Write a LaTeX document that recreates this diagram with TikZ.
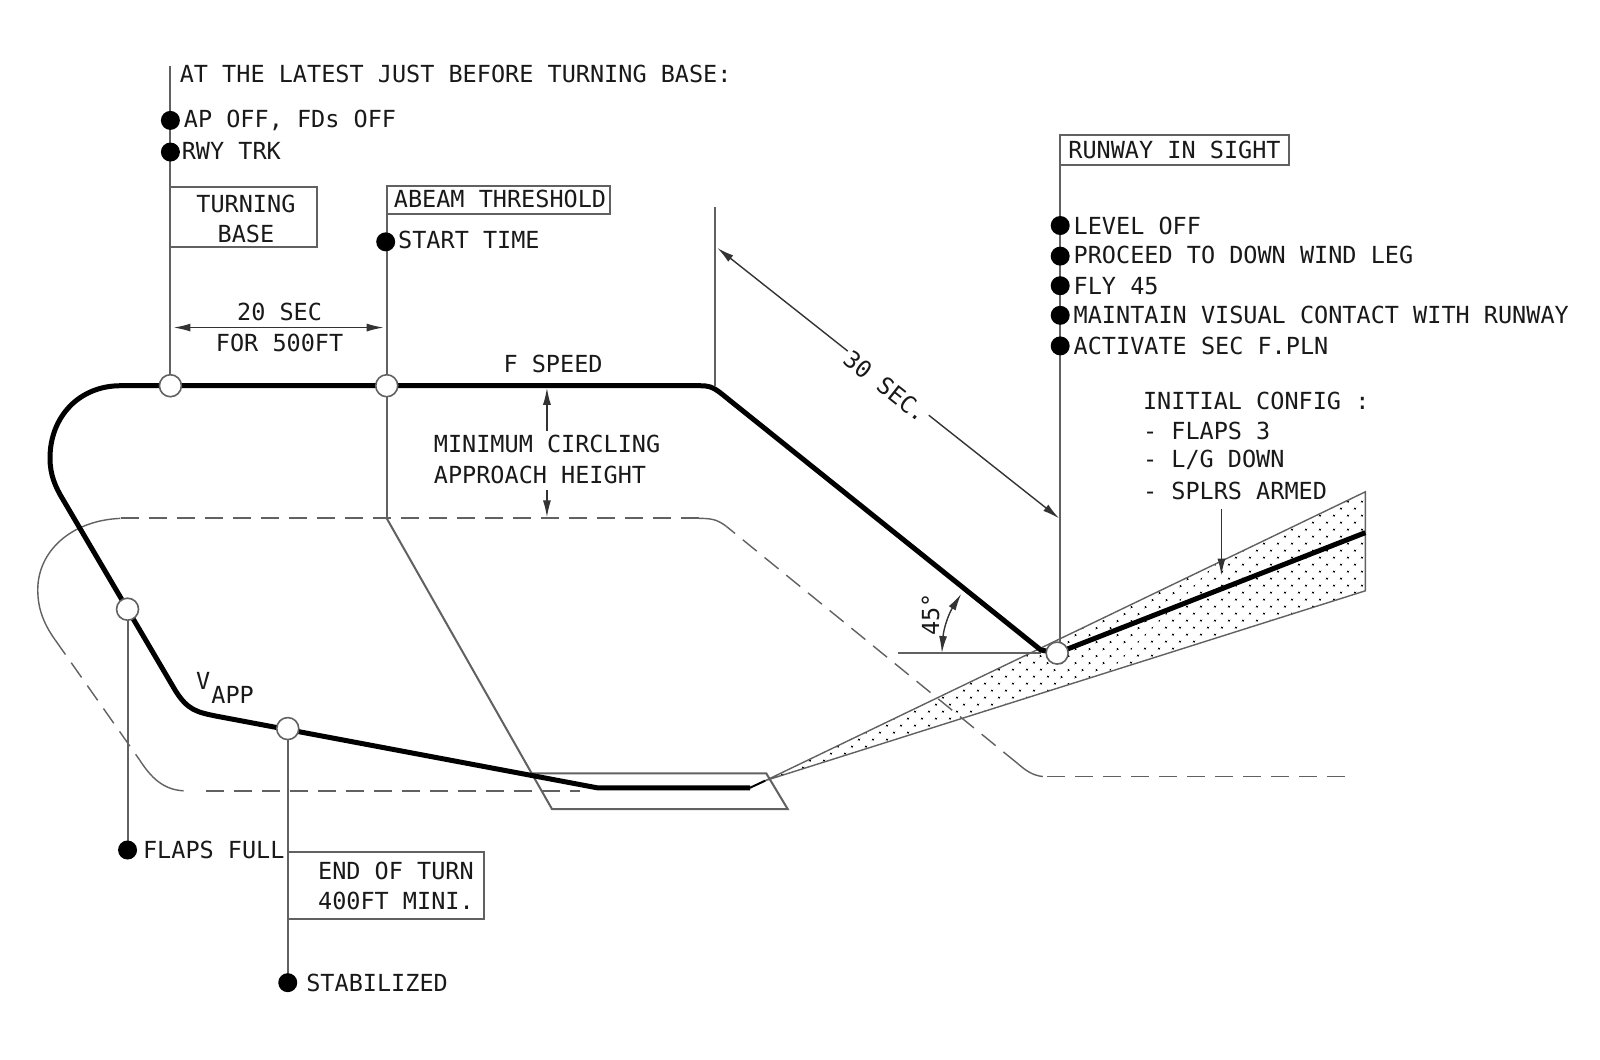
\documentclass[tikz,border=0pt]{standalone}
\usepackage{fontspec}
\setmainfont{DejaVu Sans Mono}
\usetikzlibrary{arrows.meta,patterns.meta}
\definecolor{linegray}{gray}{0.38}
\tikzset{
	lbl/.style={anchor=west,inner sep=0pt,text=black!90,font=\fontsize{23.5}{28}\selectfont},
	ctr/.style={lbl,anchor=center,align=center},
	box/.style={draw=linegray,line width=2pt},
	dot/.style={circle,fill=black,inner sep=0pt,minimum size=19pt},
	ring/.style={circle,draw=linegray,fill=white,line width=1.6pt,inner sep=0pt,minimum size=22pt},
	thin line/.style={draw=linegray,line width=2pt},
	dim/.style={draw=black!80,line width=1.4pt,{Latex[length=17pt,width=8pt]}-{Latex[length=17pt,width=8pt]}},
	lead/.style={draw=black!80,line width=1.4pt,-{Latex[length=17pt,width=8pt]}},
	flight/.style={draw=black,line width=5pt,line join=round},
	ghost/.style={draw=linegray,line width=1.8pt,dash pattern=on 18pt off 10pt},
	ghost arc/.style={draw=linegray,line width=1.4pt}
}
\begin{document}
\begin{tikzpicture}[x=1.0204pt,y=-1.0204pt]

	\useasboundingbox (0,0) rectangle (1568,1038);

	\coordinate (basepoint) at (167,378);
	\coordinate (abeampoint) at (379,378);
	\coordinate (flapspoint) at (125,597);
	\coordinate (stabpoint) at (282,714);
	\coordinate (sightpoint) at (1036,640);
	\coordinate (basetop) at (167,65);
	\coordinate (abeamtop) at (379,182);
	\coordinate (abeamfoot) at (379,508);
	\coordinate (legtop) at (701,203);
	\coordinate (legfoot) at (701,378);
	\coordinate (sightfoot) at (1039,632);
	\coordinate (slopeapex) at (750,765);
	\coordinate (slopeup) at (1338,482);
	\coordinate (slopedown) at (1338,579);
	\coordinate (angleend) at (880,640);
	\coordinate (anglecorner) at (1020,640);

	\fill[white] (0,0) rectangle (1568,1038);

	\path[pattern={Dots[distance=10.5pt,radius=1.3pt,angle=45]},pattern color=black] (slopeapex) -- (slopeup) -- (slopedown) -- cycle;
	\draw[thin line,line width=1.4pt] (slopeapex) -- (slopeup) -- (slopedown) -- cycle;

	\draw[ghost] (1318,761) -- (1022,761);
	\draw[ghost arc] (1022,761) .. controls (1012,760) and (1005,755) .. (997,748);
	\draw[ghost,line width=1.4pt] (997,748) -- (712,516);
	\draw[ghost arc] (712,516) .. controls (703,509) and (697,508) .. (685,508);
	\draw[ghost] (685,508) -- (118,508);
	\draw[ghost arc] (118,508) .. controls (70,510) and (37,540) .. (37,578) .. controls (37,598) and (44,613) .. (54,627);
	\draw[ghost,line width=1.4pt] (54,627) -- (137,745);
	\draw[ghost arc] (137,745) .. controls (148,762) and (160,774) .. (180,775);
	\draw[ghost] (202,775) -- (568,775);

	\draw[thin line] (abeamfoot) -- (541,793) -- (772,793) -- (751,758) -- (522,758);

	\draw[thin line] (basetop) -- (basepoint);
	\draw[thin line] (abeamtop) -- (abeamfoot);
	\draw[thin line] (legtop) -- (legfoot);
	\draw[thin line] (1039,132) -- (sightfoot);
	\draw[thin line] (flapspoint) -- (125,833);
	\draw[thin line] (stabpoint) -- (282,963);
	\draw[thin line,line width=2.4pt] (angleend) -- (anglecorner);

	\draw[flight] (1338,522) -- (1036,640) -- (1020,637) -- (706,385) .. controls (698,379) and (695,378) .. (685,378) -- (118,378) .. controls (78,378) and (49,408) .. (49,449) .. controls (49,465) and (54,477) .. (62,490) -- (172,677) .. controls (184,696) and (193,698) .. (213,702) -- (585,772) -- (735,772);
	\draw[line width=2pt] (735,772) -- (slopeapex);

	\node[ring] (basering) at (basepoint) {};
	\node[ring] (abeamring) at (abeampoint) {};
	\node[ring] (flapsring) at (flapspoint) {};
	\node[ring] (stabring) at (stabpoint) {};
	\node[ring] (sightring) at (sightpoint) {};

	\node[dot] (apdot) at (167,118) {};
	\node[dot] (trkdot) at (167,149) {};
	\node[dot] (timedot) at (378,237) {};
	\node[dot] (leveldot) at (1039,221) {};
	\node[dot] (winddot) at (1039,251) {};
	\node[dot] (flydot) at (1039,280) {};
	\node[dot] (contactdot) at (1039,309) {};
	\node[dot] (secdot) at (1039,339) {};
	\node[dot] (flapsdot) at (125,833) {};
	\node[dot] (stabdot) at (282,963) {};

	\node[lbl] (latest) at (176,72) {AT THE LATEST JUST BEFORE TURNING BASE:};
	\node[lbl] (aptext) at (180,118) {AP OFF, FDs OFF};
	\node[lbl] (trktext) at (178,148) {RWY TRK};
	\node[lbl] (timetext) at (390,235) {START TIME};
	\node[lbl] (leveltext) at (1052,221) {LEVEL OFF};
	\node[lbl] (windtext) at (1052,250) {PROCEED TO DOWN WIND LEG};
	\node[lbl] (flytext) at (1052,280) {FLY 45};
	\node[lbl] (contacttext) at (1052,309) {MAINTAIN VISUAL CONTACT WITH RUNWAY};
	\node[lbl] (sectext) at (1052,339) {ACTIVATE SEC F.PLN};
	\node[lbl] (flapstext) at (140,833) {FLAPS FULL};
	\node[lbl] (stabtext) at (300,963) {STABILIZED};

	\draw[box] (167,183) rectangle (311,242);
	\draw[box] (379,182) rectangle (598,210);
	\draw[box] (1039,132) rectangle (1263,162);
	\draw[box] (282,835) rectangle (474,901);
	\node[ctr] (turntext) at (241,200) {TURNING};
	\node[ctr] (basetext) at (241,229) {BASE};
	\node[ctr] (abeamtext) at (490,195) {ABEAM THRESHOLD};
	\node[ctr] (sighttext) at (1151,147) {RUNWAY IN SIGHT};
	\node[ctr] (endtext) at (388,854) {END OF TURN};
	\node[ctr] (minitext) at (388,883) {400FT MINI.};

	\coordinate (timeleft) at (170,321);
	\coordinate (timeright) at (376,321);
	\draw[dim] (timeleft) -- (timeright);
	\node[ctr] (timeup) at (274,306) {20 SEC};
	\node[ctr] (timedown) at (274,336) {FOR 500FT};

	\node[ctr] (speedtext) at (542,357) {F SPEED};
	\node[lbl] (mintext) at (425,435) {MINIMUM CIRCLING};
	\node[lbl] (heighttext) at (425,465) {APPROACH HEIGHT};
	\coordinate (heighttop) at (536,380);
	\coordinate (heightfoot) at (536,507);
	\draw[lead] (536,422) -- (heighttop);
	\draw[lead] (536,480) -- (heightfoot);

	\coordinate (legup) at (703,243);
	\coordinate (legdown) at (1038,508);
	\draw[dim] (legup) -- node[sloped,fill=white,inner xsep=2pt,inner ysep=7pt,pos=0.5,yshift=-4pt,text=black!90,font=\fontsize{23.5}{28}\selectfont] (secondstext) {30 SEC.} (legdown);

	\node[lbl] (vtext) at (192,667) {V};
	\node[lbl] (apptext) at (207,681) {APP};

	\node[lbl] (configa) at (1120,393) {INITIAL CONFIG :};
	\node[lbl] (configb) at (1120,422) {- FLAPS 3};
	\node[lbl] (configc) at (1120,451) {- L/G DOWN};
	\node[lbl] (configd) at (1120,481) {- SPLRS ARMED};
	\coordinate (configfrom) at (1197,499);
	\coordinate (configto) at (1197,564);
	\draw[lead] (configfrom) -- (configto);

	\coordinate (anglefrom) at (923,640);
	\coordinate (angleto) at (942,582);
	\draw[dim] (anglefrom) to[bend left=14] (angleto);
	\node[lbl,anchor=center,rotate=90] (angletext) at (912,602) {45°};

\end{tikzpicture}
\end{document}
